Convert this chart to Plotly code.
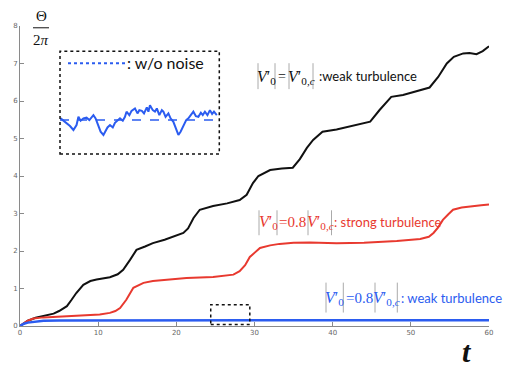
import plotly.graph_objects as go

# ---------------- data ----------------
t_black = [0, 0.5, 1, 2, 3, 4.3, 5, 6, 6.6, 7.2, 8.1, 9, 9.8, 11.5, 12.5, 13.2, 14.1, 14.9, 16, 17,
           18.5, 19.6, 20.9, 21.5, 22.2, 23, 24.7, 26.5, 28.1, 29, 29.8, 30.5, 32, 33.5, 34.9, 35.8,
           36.7, 37.5, 38.7, 40.5, 42.5, 44.8, 46, 47.5, 49, 50.5, 52.4, 53.5, 54.6, 55.5, 56.7,
           57.5, 58.4, 59.2, 60]
v_black = [0, 0.08, 0.14, 0.22, 0.27, 0.33, 0.4, 0.53, 0.7, 0.88, 1.1, 1.2, 1.24, 1.3, 1.38, 1.5,
           1.77, 2.03, 2.12, 2.21, 2.3, 2.39, 2.48, 2.6, 2.88, 3.1, 3.2, 3.27, 3.36, 3.5, 3.81, 4.0,
           4.16, 4.2, 4.22, 4.45, 4.75, 4.96, 5.18, 5.24, 5.33, 5.45, 5.76, 6.11, 6.16, 6.25, 6.36,
           6.64, 7.0, 7.18, 7.27, 7.28, 7.25, 7.33, 7.46]

t_red = [0, 0.5, 1, 1.7, 3, 6, 8, 10.2, 11.5, 12.2, 12.8, 13.6, 14.5, 15.2, 15.8, 17, 18.8, 21.3,
         24.7, 26, 27.3, 28.1, 28.8, 29.4, 30.7, 32, 33.2, 35, 37.1, 40.5, 44, 48.2, 51.2, 52.3,
         52.9, 53.5, 54.1, 54.8, 55.4, 56.5, 57.5, 59, 60]
v_red = [0, 0.08, 0.14, 0.2, 0.23, 0.26, 0.28, 0.31, 0.35, 0.4, 0.48, 0.7, 1.02, 1.1, 1.15, 1.2,
         1.24, 1.28, 1.31, 1.33, 1.37, 1.46, 1.62, 1.84, 2.08, 2.15, 2.19, 2.22, 2.23, 2.21, 2.22,
         2.27, 2.32, 2.38, 2.48, 2.63, 2.83, 2.98, 3.1, 3.16, 3.19, 3.22, 3.24]

t_blue = [0, 0.5, 1, 2, 3, 5, 8, 12, 16, 20, 24, 28, 32, 36, 40, 44, 48, 52, 56, 60]
v_blue = [0, 0.06, 0.09, 0.12, 0.14, 0.15, 0.15, 0.155, 0.15, 0.155, 0.15, 0.155, 0.155, 0.15,
          0.155, 0.15, 0.155, 0.15, 0.155, 0.155]

# inset (zoom of blue curve, t = 24.5 .. 29.5)
t_inset = [24.50, 24.59, 24.69, 24.80, 24.91, 24.96, 25.01, 25.07, 25.14, 25.23, 25.33, 25.42,
           25.49, 25.55, 25.62, 25.71, 25.78, 25.87, 25.94, 26.00, 26.08, 26.17, 26.24, 26.32,
           26.40, 26.49, 26.56, 26.61, 26.70, 26.77, 26.88, 26.96, 27.02, 27.10, 27.17, 27.26,
           27.31, 27.36, 27.45, 27.52, 27.58, 27.66, 27.74, 27.79, 27.86, 27.95, 28.02, 28.11,
           28.18, 28.27, 28.34, 28.43, 28.52, 28.59, 28.67, 28.75, 28.83, 28.91, 28.99, 29.05,
           29.12, 29.20, 29.28, 29.35, 29.41, 29.50]
v_inset = [0.1510, 0.1496, 0.1481, 0.1465, 0.1442, 0.1457, 0.1471, 0.1519, 0.1496, 0.1510,
           0.1514, 0.1500, 0.1519, 0.1529, 0.1510, 0.1461, 0.1432, 0.1413, 0.1442, 0.1457,
           0.1471, 0.1457, 0.1484, 0.1496, 0.1510, 0.1496, 0.1519, 0.1549, 0.1529, 0.1554,
           0.1568, 0.1539, 0.1558, 0.1554, 0.1539, 0.1574, 0.1549, 0.1587, 0.1558, 0.1549,
           0.1568, 0.1529, 0.1558, 0.1549, 0.1519, 0.1539, 0.1510, 0.1490, 0.1461, 0.1413,
           0.1432, 0.1471, 0.1500, 0.1510, 0.1529, 0.1549, 0.1523, 0.1519, 0.1543, 0.1529,
           0.1549, 0.1529, 0.1558, 0.1535, 0.1549, 0.1529]
t_clean = [24.48, 29.55]
v_clean = [0.15, 0.15]

x_ticks = [0, 10, 20, 30, 40, 50, 60]
y_ticks = [0, 1, 2, 3, 4, 5, 6, 7, 8]

BLACK = "#111111"
RED = "#e8392f"
BLUE = "#2b5cf0"
GRAY = "#8a8a8a"

# page body has an 8px margin: figure is drawn 8px right/down of the window origin
OFF = 8
W, H = 516 - OFF, 371 - OFF
PLOT_X0, PLOT_X1 = 20, 489      # window pixels of t=0 and t=60
PLOT_Y0, PLOT_Y1 = 326.5, 25.7  # window pixels of value 0 and 8
L = PLOT_X0 - OFF
R = 516 - PLOT_X1
T = PLOT_Y1 - OFF
B = 371 - PLOT_Y0


def px(x):
    return (x - PLOT_X0) / (PLOT_X1 - PLOT_X0)


def py(y):
    return (PLOT_Y0 - y) / (PLOT_Y0 - PLOT_Y1)


fig = go.Figure()
fig.add_trace(go.Scatter(x=t_black, y=v_black, mode="lines",
                         line=dict(color=BLACK, width=2), showlegend=False))
fig.add_trace(go.Scatter(x=t_red, y=v_red, mode="lines",
                         line=dict(color=RED, width=2), showlegend=False))
fig.add_trace(go.Scatter(x=t_blue, y=v_blue, mode="lines",
                         line=dict(color=BLUE, width=2.5), showlegend=False))
# inset traces
fig.add_trace(go.Scatter(x=t_clean, y=v_clean, mode="lines", xaxis="x2", yaxis="y2",
                         line=dict(color=BLUE, width=1.5, dash="dash"), showlegend=False))
fig.add_trace(go.Scatter(x=t_inset, y=v_inset, mode="lines", xaxis="x2", yaxis="y2",
                         line=dict(color=BLUE, width=2), showlegend=False))

axis_common = dict(showgrid=False, zeroline=False, showline=True, linecolor=GRAY, linewidth=1,
                   ticks="inside", ticklen=4, tickcolor=GRAY, automargin=False,
                   tickfont=dict(size=7, color="#666666", family="DejaVu Sans"))

fig.update_layout(
    width=W, height=H,
    margin=dict(l=L, r=R, t=T, b=B, pad=0),
    paper_bgcolor="white", plot_bgcolor="white",
    xaxis=dict(range=[0, 60], tickvals=x_ticks, **axis_common),
    yaxis=dict(range=[0, 8], tickvals=y_ticks, **axis_common),
    xaxis2=dict(domain=[px(60), px(219.3)], range=[24.48, 29.58], anchor="y2",
                visible=False),
    yaxis2=dict(domain=[py(154), py(51)], range=[0.1302, 0.1902], anchor="x2",
                visible=False),
)

shapes = []
# small dotted box on main plot
shapes.append(dict(type="rect", xref="x", yref="y", x0=24.4, x1=29.4, y0=0.04, y1=0.57,
                   line=dict(color=BLACK, width=1.5, dash="dot")))
# inset frame
shapes.append(dict(type="rect", xref="paper", yref="paper", x0=px(60), x1=px(219.3),
                   y0=py(154), y1=py(51), line=dict(color=BLACK, width=1.5, dash="dot")))
# inset legend dash
shapes.append(dict(type="line", xref="paper", yref="paper", x0=px(68), x1=px(127),
                   y0=py(63), y1=py(63), line=dict(color=BLUE, width=2, dash="dot")))
# fraction bar for Theta / 2pi
shapes.append(dict(type="line", xref="paper", yref="paper", x0=px(33), x1=px(49),
                   y0=py(27.5), y1=py(27.5), line=dict(color=BLACK, width=1)))


def bars(xs, yc, hh):
    for x in xs:
        shapes.append(dict(type="line", xref="paper", yref="paper", x0=px(x), x1=px(x),
                           y0=py(yc + hh), y1=py(yc - hh), line=dict(color="#aaaaaa", width=1)))


anns = []


def txt(x, y, text, size, color, family, xanchor="left"):
    anns.append(dict(xref="paper", yref="paper", x=px(x), y=py(y), text=text, showarrow=False,
                     xanchor=xanchor, yanchor="middle", borderpad=0,
                     font=dict(size=size, color=color, family=family)))


SERIF = "Liberation Serif"
SANS = "Lato"
V0 = "<i>V</i>′<sub>0</sub>"
V0c = "<i>V</i>′<sub>0,<i>c</i></sub>"

# black label
bars([258, 275, 289, 313], 76, 13)
txt(266.5, 77, V0, 16, BLACK, SERIF, "center")
txt(282, 76, "=", 14, BLACK, SERIF, "center")
txt(301, 77, V0c, 16, BLACK, SERIF, "center")
txt(318, 76, ":weak turbulence", 13, BLACK, SANS)

# red label
bars([259, 277, 308, 331.5], 223, 12.5)
txt(268, 223, V0, 16, RED, SERIF, "center")
txt(292.5, 222, "=0.8", 15, RED, SERIF, "center")
txt(320, 223, V0c, 16, RED, SERIF, "center")
txt(333, 222, ": strong turbulence", 13, RED, SANS)

# blue label
bars([326, 343.3, 375, 397.3], 298, 15)
txt(334.7, 299, V0, 16, BLUE, SERIF, "center")
txt(359.2, 298, "=0.8", 15, BLUE, SERIF, "center")
txt(386.2, 299, V0c, 16, BLUE, SERIF, "center")
txt(400, 298, ": weak turbulence", 13, BLUE, SANS)

# inset legend text
txt(126, 62, ": w/o noise", 16, BLACK, SANS)

# y-axis label Theta / 2pi
txt(41, 16, "Θ", 15, BLACK, SERIF, "center")
txt(41, 40, "2<i>π</i>", 15, BLACK, SERIF, "center")

# x-axis label t
txt(467, 352, "<b><i>t</i></b>", 30, BLACK, SERIF, "center")

fig.update_layout(shapes=shapes, annotations=anns)
fig.write_html("out.html")
